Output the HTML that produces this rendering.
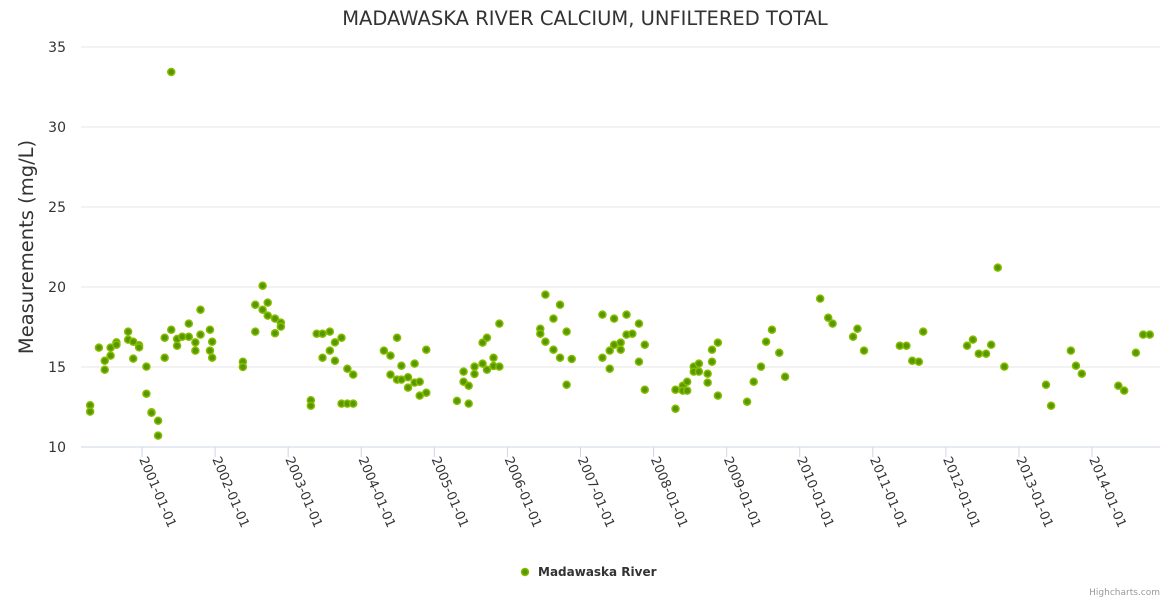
<!DOCTYPE html>
<html><head><meta charset="utf-8"><style>
html,body{margin:0;padding:0;background:#fff;}
svg{display:block;font-family:"DejaVu Sans","Liberation Sans",sans-serif;}
</style></head><body>
<svg id="chart" width="1170" height="600">
<text x="585" y="25" text-anchor="middle" font-size="19.5" fill="#333">MADAWASKA RIVER CALCIUM, UNFILTERED TOTAL</text>
<text transform="translate(33,247) rotate(-90)" text-anchor="middle" font-size="19.5" fill="#333">Measurements (mg/L)</text>
<g id="grid"></g><g id="xaxis"></g><g id="pts"></g>
<g>
<circle cx="525" cy="572" r="3.5" fill="#559900" stroke="#88bb00" stroke-width="1.5"/>
<text x="538" y="576" font-size="12" font-weight="bold" fill="#333">Madawaska River</text>
</g>
<text x="1160" y="595" text-anchor="end" font-size="9" fill="#999">Highcharts.com</text>
</svg>
<script>
const yTicks=[10,15,20,25,30,35];
const xTickYears=[2001,2002,2003,2004,2005,2006,2007,2008,2009,2010,2011,2012,2013,2014];
const dates=[2000.29,2000.29,2000.41,2000.49,2000.49,2000.57,2000.57,2000.65,2000.65,2000.81,2000.81,2000.88,2000.88,2000.96,2000.96,2001.06,2001.06,2001.13,2001.13,2001.22,2001.22,2001.31,2001.31,2001.40,2001.40,2001.48,2001.48,2001.55,2001.64,2001.64,2001.73,2001.73,2001.80,2001.80,2001.93,2001.93,2001.96,2001.96,
2002.38,2002.38,2002.55,2002.55,2002.65,2002.65,2002.72,2002.72,2002.82,2002.82,2002.90,2002.90,
2003.31,2003.31,2003.39,2003.47,2003.47,2003.57,2003.57,2003.64,2003.64,2003.73,2003.73,2003.81,2003.81,2003.89,2003.89,
2004.31,2004.40,2004.40,2004.49,2004.49,2004.55,2004.55,2004.64,2004.64,2004.73,2004.73,2004.80,2004.80,2004.89,2004.89,
2005.31,2005.40,2005.40,2005.47,2005.47,2005.55,2005.55,2005.66,2005.66,2005.72,2005.72,2005.81,2005.81,2005.89,2005.89,
2006.45,2006.45,2006.52,2006.52,2006.63,2006.63,2006.72,2006.72,2006.81,2006.81,2006.88,
2007.30,2007.30,2007.40,2007.40,2007.46,2007.46,2007.55,2007.55,2007.63,2007.63,2007.71,2007.80,2007.80,2007.88,2007.88,
2008.30,2008.30,2008.40,2008.40,2008.46,2008.46,2008.55,2008.55,2008.62,2008.62,2008.74,2008.74,2008.80,2008.80,2008.88,2008.88,
2009.28,2009.37,2009.47,2009.54,2009.62,2009.72,2009.80,
2010.28,2010.39,2010.45,2010.73,2010.79,2010.88,
2011.37,2011.46,2011.54,2011.63,2011.69,
2012.29,2012.37,2012.45,2012.55,2012.62,2012.71,2012.80,
2013.37,2013.44,2013.71,2013.78,2013.86,
2014.36,2014.44,2014.60,2014.70,2014.79];
const values=[12.61,12.21,16.21,15.39,14.83,16.21,15.71,16.54,16.39,17.21,16.71,16.58,15.52,16.36,16.23,15.02,13.33,12.17,12.14,11.64,10.71,16.83,15.58,17.33,33.44,16.75,16.33,16.89,17.71,16.89,16.54,16.02,18.58,17.02,17.33,16.02,16.58,15.58,
15.33,15.0,18.89,17.21,20.08,18.58,19.02,18.21,18.02,17.11,17.77,17.52,
12.92,12.58,17.08,17.08,15.58,17.21,16.02,16.54,15.39,16.83,12.71,14.89,12.71,14.52,12.71,
16.02,15.71,14.52,16.83,14.21,15.08,14.21,14.36,13.71,15.21,14.02,14.08,13.21,16.08,13.39,
12.88,14.71,14.08,13.83,12.71,15.02,14.56,15.21,16.52,14.83,16.83,15.58,15.06,17.71,15.02,
17.39,17.08,19.52,16.58,18.02,16.08,18.89,15.58,17.21,13.89,15.5,
18.27,15.58,16.02,14.89,18.02,16.39,16.52,16.08,18.27,17.02,17.08,17.71,15.33,16.39,13.58,
13.58,12.39,13.83,13.52,14.08,13.52,15.02,14.71,15.21,14.71,14.58,14.02,16.08,15.33,16.52,13.21,
12.83,14.08,15.02,16.58,17.33,15.89,14.39,
19.27,18.08,17.71,16.89,17.39,16.02,
16.33,16.33,15.39,15.33,17.21,
16.33,16.71,15.83,15.83,16.39,21.21,15.02,
13.89,12.58,16.02,15.08,14.58,
13.83,13.52,15.89,17.02,17.02];
const NS='http://www.w3.org/2000/svg';
const L=81,R=1160,T=47,B=447,X0=2000.165,X1=2014.93,Y0=10,Y1=35;
function xs(v){return L+(v-X0)/(X1-X0)*(R-L);}
function ys(v){return B-(v-Y0)/(Y1-Y0)*(B-T);}
function mk(t,a,p){const e=document.createElementNS(NS,t);for(const k in a)e.setAttribute(k,a[k]);p.appendChild(e);return e;}
const grid=document.getElementById('grid');
yTicks.forEach(v=>{
 const ln=mk('line',{x1:L,x2:R,y1:ys(v),y2:ys(v),stroke:v===10?'#ccd6eb':'#e6e6e6','stroke-width':1},grid);
 
 
 const t=mk('text',{x:66,y:ys(v)+5,'text-anchor':'end','font-size':14,fill:'#333'},grid);
 t.textContent=v;
 
 
});
const xa=document.getElementById('xaxis');
xTickYears.forEach(yr=>{
 const x=xs(yr);
 const tk=mk('line',{x1:x,x2:x,y1:B,y2:B+10,stroke:'#ccd6eb'},xa);
 
 
 const t=mk('text',{transform:`translate(${x-3},${B+12}) rotate(67)`,'font-size':13,fill:'#333'},xa);
 t.textContent=yr+'-01-01';
 
 
});
const pts=document.getElementById('pts');
dates.forEach((d,i)=>{
 const c=mk('circle',{cx:xs(d),cy:ys(values[i]),r:3.5,fill:'#559900',stroke:'#88bb00','stroke-width':1.5},pts);
 
 
});
</script>
</body></html>
